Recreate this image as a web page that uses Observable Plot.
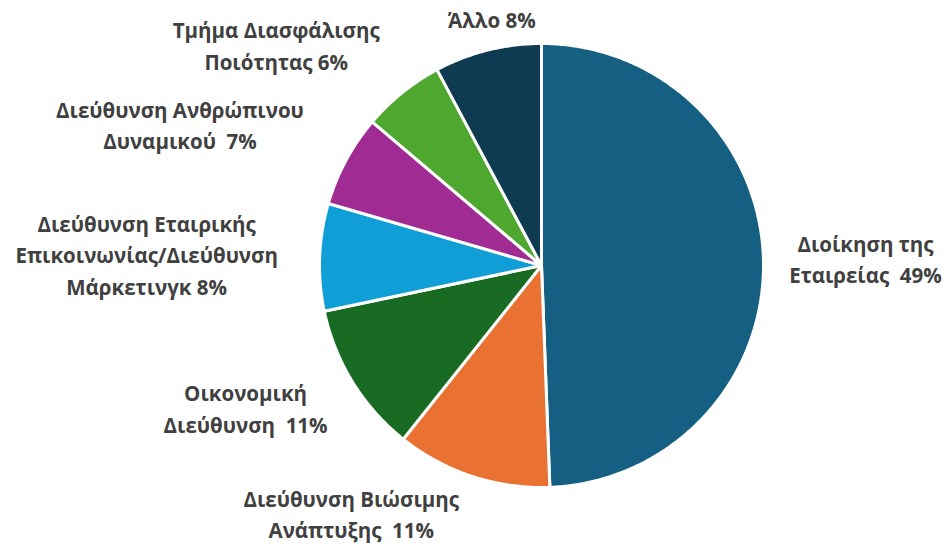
<!DOCTYPE html>
<html>
<head>
<meta charset="utf-8">
<script src="https://cdn.jsdelivr.net/npm/d3@7"></script>
<script src="https://cdn.jsdelivr.net/npm/@observablehq/plot@0.6"></script>
<style>
  html, body { margin: 0; padding: 0; background: #fff; }
  #chart { width: 949px; height: 549px; }
</style>
</head>
<body>
<div id="chart"></div>
<script>
// ---- data ----
const categories = [
  "Διοίκηση της Εταιρείας",
  "Διεύθυνση Βιώσιμης Ανάπτυξης",
  "Οικονομική Διεύθυνση",
  "Διεύθυνση Εταιρικής Επικοινωνίας/Διεύθυνση Μάρκετινγκ",
  "Διεύθυνση Ανθρώπινου Δυναμικού",
  "Τμήμα Διασφάλισης Ποιότητας",
  "Άλλο"
];
const shares = [49.4, 11.3, 11.0, 7.8, 6.7, 6.0, 7.8];
const labelTexts = [
  "Διοίκηση της\nΕταιρείας  49%",
  "Διεύθυνση Βιώσιμης\nΑνάπτυξης  11%",
  "Οικονομική\nΔιεύθυνση  11%",
  "Διεύθυνση Εταιρικής\nΕπικοινωνίας/Διεύθυνση\nΜάρκετινγκ 8%",
  "Διεύθυνση Ανθρώπινου\nΔυναμικού  7%",
  "Τμήμα Διασφάλισης\nΠοιότητας 6%",
  "Άλλο 8%"
];
const colors = ["#156082", "#E97132", "#196B24", "#0F9ED5", "#A02B93", "#4EA72E", "#0E3A52"];

// ---- layout (label nudges from slice rim, in px) ----
const labelNudge = [
  [102, -4], [-121, 36], [-107, 25], [-173, -4], [-166, -37], [-126, -49], [4, -32]
];
const R = 222; // pie radius in px (matches scale range below)

// ---- build slice polygons in unit coordinates ----
const pie = d3.pie().sort(null).value(d => d.value)(
  categories.map((name, i) => ({name, value: shares[i]}))
);
const points = [];
const labels = [];
pie.forEach((arc, i) => {
  const name = arc.data.name;
  points.push({name, x: 0, y: 0});
  const n = Math.max(2, Math.ceil((arc.endAngle - arc.startAngle) / 0.01));
  for (let k = 0; k <= n; k++) {
    const a = arc.startAngle + (arc.endAngle - arc.startAngle) * k / n;
    points.push({name, x: Math.sin(a), y: Math.cos(a)});
  }
  points.push({name, x: 0, y: 0});
  const mid = (arc.startAngle + arc.endAngle) / 2;
  labels.push({
    text: labelTexts[i],
    x: Math.sin(mid) + labelNudge[i][0] / R,
    y: Math.cos(mid) - labelNudge[i][1] / R
  });
});

const chart = Plot.plot({
  width: 949,
  height: 549,
  marginLeft: 319,
  marginRight: 186,
  marginTop: 43,
  marginBottom: 62,
  x: {domain: [-1, 1], axis: null},
  y: {domain: [-1, 1], axis: null},
  color: {domain: categories, range: colors},
  style: {fontFamily: "'Open Sans', sans-serif", background: "#fff", overflow: "visible"},
  marks: [
    Plot.line(points, {x: "x", y: "y", z: "name", fill: "name", stroke: "#fff", strokeWidth: 3, strokeLinejoin: "round", curve: "linear"}),
    Plot.text(labels, {x: "x", y: "y", text: "text", fontSize: 20.5, fontWeight: "bold", fill: "#404040", lineHeight: 1.55, lineAnchor: "middle", textAnchor: "middle"})
  ]
});
document.getElementById("chart").appendChild(chart);
</script>
</body>
</html>
